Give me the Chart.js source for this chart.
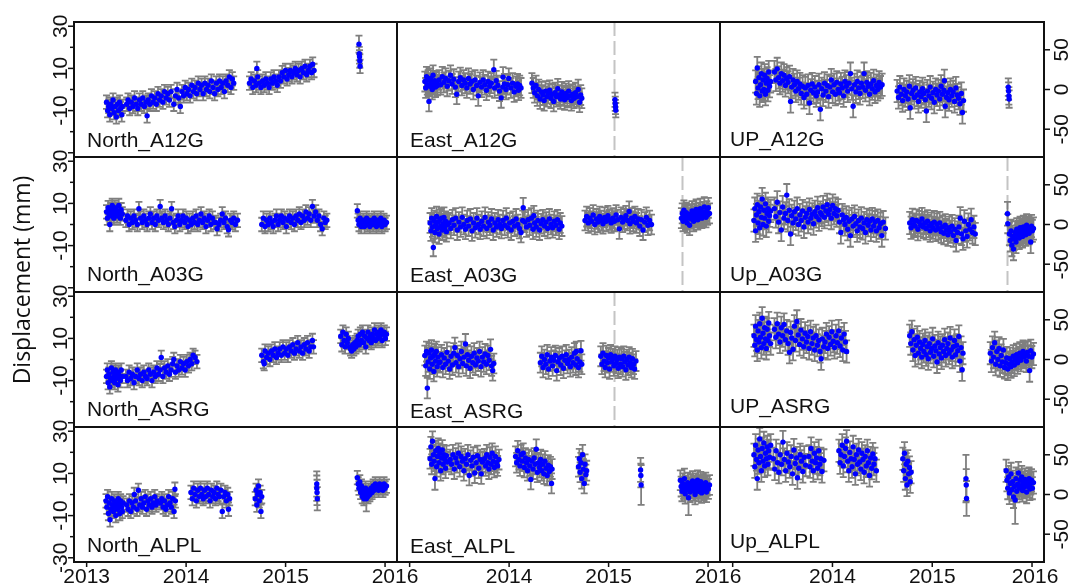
<!DOCTYPE html>
<html><head><meta charset="utf-8">
<script src="https://cdn.jsdelivr.net/npm/chart.js@4.4.1/dist/chart.umd.min.js"></script>
<style>
html,body{margin:0;padding:0;background:#fff;}
#wrap{position:relative;width:1068px;height:585px;overflow:hidden;}
#wrap canvas{position:absolute;left:0;top:0;}
</style>
</head><body><div id="wrap"></div>
<script>
// time values are days since 2013-01-01; optional third value = error (mm)
const yearTicks = [2013, 2014, 2015, 2016];
const northTicks = [30, 20, 10, 0, -10, -20, -30];
const northLabels = [30, 10, -10, -30];
const rightTicks = [50, 0, -50];
const titles = ['North_A12G','East_A12G','UP_A12G','North_A03G','East_A03G','Up_A03G','North_ASRG','East_ASRG','UP_ASRG','North_ALPL','East_ALPL','Up_ALPL'];

const northA12G = [
[73,-6],[77,-10],[81,-8],[85,-12],[89,-7],[93,-9],[97,-5],[101,-11],[105,-8],[109,-13],[113,-7],[117,-10],[121,-6],[125,-9],[129,-12],[131,-8],
[147,-7],[152,-5],[158,-9],[164,-6],[170,-8],[176,-4],[182,-7],[188,-9],[194,-5],[200,-7],[206,-4],[212,-8],[218,-6],[222,-12.5],[226,-5],[232,-7],[238,-3],[244,-6],[250,-4],[256,-7],[262,-2],[268,-5],[274,-3],[280,-6],[286,-1],[292,-4],[298,-2],[304,-5],[310,-1],[320,-7],[326,-3],[332,0],[338,-4],[344,-8],[350,-1],[356,-3],[362,1],[368,-2],[374,0],[380,-3],[386,2],[392,-1],[398,1],[404,-2],[410,3],[416,0],[422,2],[428,-2],[434,3],[440,0],[446,2],[452,-1],[458,4],[464,1],[470,-2],[476,3],[482,0],[488,4],[494,1],[500,3],[506,-1],[512,4],[518,2],[524,6],[530,1],[535,5],[540,3],
[598,3],[604,5],[610,1],[616,4],[622,2],[625,10],[628,6],[634,3],[640,1],[646,4],[652,2],[658,5],[664,3],[670,1],[676,5],[682,3],[688,6],[694,4],[700,2],[706,6],[712,4],[718,8],[724,6],[730,9],[736,5],[742,7],[748,9],[754,6],[760,8],[766,10],[772,7],[778,9],[784,6],[790,10],[796,8],[802,11],[808,7],[814,9],[820,11],[826,8],[830,12],[835,9],
[1000,21.5,4],[1001,17],[1002,15.5],[1003,13.5],[1004,11]
];
const eastA12G = [
[56,10],[59,2],[62,16],[65,6],[68,12],[71,-15],[74,4],[77,14],[80,8],[83,0],[86,18],[89,6],[92,11],[95,3],[98,9],[102,5],
[108,12],[114,6],[120,16],[126,9],[132,14],[138,4],[144,11],[150,18],[156,7],[162,13],[168,3],[173,-6],[180,10],[186,15],[192,5],[198,12],[204,8],[210,2],[216,14],[222,7],[228,10],[234,0],[240,12],[246,5],[252,-8],[258,9],[264,3],[270,12],[276,6],[282,-1],[288,10],[294,4],[300,8],[309,25],[312,2],[318,11],[324,5],[330,-2],[336,-10.5],[342,3],[343,15.6],[348,7],[354,0],[360,6],[364,14],[372,2],[378,8],[384,-3],[390,4],[396,7],[400,-1],[404,5],[409,2],
[449,8],[454,2],[459,-4],[464,5],[469,-8],[474,0],[479,-12],[484,-3],[489,-7],[494,-14],[499,-2],[504,-9],[509,-5],[514,-1],[519,-11],[524,-6],[529,-15],[534,-4],[539,-9],[544,1],[549,-7],[554,-12],[559,-3],[564,-8],[569,-13],[574,-5],[579,-10],[584,-2],[589,-8],[594,-14],[599,-6],[604,-11],[609,-4],[614,-9],[619,0],[624,-16],[628,-7],[632,-11],
[754,-13,9],[755,-18,9],[756,-22,9],[757,-26,9]
];
const upA12G = [
[84,10],[87,-5],[90,27],[93,2],[96,15],[99,-8],[102,6],[105,20],[108,-2],[111,12],[114,0],[117,18],[120,-6],[123,8],[126,14],[129,-1],[132,22],[135,4],[139,10],
[153,22],[158,12],[163,26],[168,15],[173,8],[178,20],[183,11],[188,18],[193,5],[198,14],[203,9],[208,16],[212,-15],[216,3],[221,12],[226,6],[231,-2],[236,10],[241,1],[246,7],[251,-5],[256,4],[261,-10],[266,2],[271,-6],[276,5],[281,-17],[286,-1],[291,7],[296,-4],[301,3],[306,-8],[311,-3],[316,6],[321,-25],[326,1],[331,-7],[336,8],[341,-2],[346,5],[351,-9],[356,3],[361,12],[366,-3],[371,6],[376,-6],[381,9],[386,0],[391,-4],[396,7],[401,2],[406,-8],[411,10],[416,4],[421,-2],[426,8],[431,20],[436,1],[441,-21],[446,6],[451,-3],[456,10],[461,2],[466,-5],[471,8],[476,3],[481,20],[486,-1],[491,9],[496,4],[501,-6],[506,7],[511,1],[516,11],[521,-3],[526,5],[531,0],[536,9],[541,3],[547,6],
[602,-2],[607,-10],[612,3],[617,-6],[622,-14],[627,0],[632,-8],[637,-3],[642,-12],[647,4],[650,-23],[655,-5],[660,-1],[665,-10],[670,2],[675,-7],[680,-15],[685,-3],[690,-9],[695,1],[700,-5],[705,-13],[709,-27],[713,-2],[718,-8],[723,3],[728,-11],[733,-4],[738,-16],[743,0],[748,-7],[753,-2],[758,-12],[763,4],[768,-6],[773,-1],[775,11],[778,-21],[783,-10],[787,-4],[792,-13],[797,0],[802,-8],[807,-3],[812,-15],[817,2],[822,-7],[827,-11],[832,-18],[837,-5],[841,-29],[845,-14],
[1009,3,11],[1010,-2,11],[1011,-8,11],[1012,-12,11]
];
const northA03G = [
[73,6],[76,3],[79,8],[82,5],[85,0],[88,7],[91,4],[94,9],[97,6],[100,3],[103,8],[106,5],[109,7],[112,4],[115,6],[118,9],[121,5],[124,3],[127,7],[131,5],
[144,2],[150,4],[156,0],[162,3],[168,1],[174,4],[180,2],[186,0],[192,7.5],[198,3],[204,1],[210,4],[216,2],[222,0],[228,3],[234,5],[240,1],[246,3],[252,0],[258,4],[264,2],[270,8.5],[276,3],[282,1],[288,4],[294,2],[300,0],[306,3],[312,7.5],[318,1],[324,-1],[330,2],[336,4],[342,0],[348,2],[354,4],[360,1],[366,3],[372,-1],[378,2],[384,0],[390,3],[396,1],[402,4],[408,0],[414,2],[420,5],[426,1],[432,3],[438,-1],[444,2],[450,4],[456,0],[462,3],[468,1],[474,1],[479,-2],[486,0],[492,2],[498,5],[504,1],[510,3],[516,-1],[521,-2.5],[528,2],[534,1],[540,3],[546,0],[554,2],
[643,0],[649,3],[655,-1],[661,2],[667,0],[673,3],[679,1],[685,-1],[691,2],[697,4],[703,0],[709,2],[715,4],[721,1],[727,3],[733,-1],[739,2],[745,4],[751,1],[757,3],[763,0],[769,4],[775,2],[781,5],[787,1],[793,4],[799,2],[805,6],[811,3],[817,5],[823,2],[829,8.5],[835,4],[841,6],[847,2],[853,4],[859,0],[865,-2],[871,3],[876,1],[882,2],
[994,6.5],[997,2],[1000,0],[1004,3],[1008,-1],[1012,1],[1016,2],[1020,-1],[1024,1],[1028,3],[1032,0],[1036,2],[1040,-1],[1044,1],[1048,2],[1052,0],[1056,3],[1060,1],[1064,-1],[1068,2],[1072,0],[1076,1],[1080,3],[1084,-1],[1088,1],[1092,2],[1096,0],[1101,1]
];
const eastA03G = [
[75,2],[78,-8],[81,8],[84,-3],[87,-29,11],[90,5],[93,-10],[96,0],[99,10],[102,-5],[105,3],[108,-12],[111,6],[114,-2],[117,8],[120,-7],[123,1],[126,9],[129,-4],[132,4],[135,-9],[139,0],
[145,2],[151,-5],[157,6],[163,-1],[169,8],[175,-7],[181,3],[187,-3],[193,9],[199,0],[205,-6],[211,5],[217,-2],[223,7],[229,-8],[235,2],[241,-4],[247,8],[253,0],[259,-6],[265,4],[271,-2],[277,9],[283,-5],[289,3],[295,-1],[301,7],[307,-7],[313,2],[319,-3],[325,6],[331,0],[337,-5],[343,5],[349,-1],[355,8],[361,-4],[367,2],[373,-7],[379,4],[385,-2],[391,7],[397,0],[403,-5],[409,-10],[415,5],[417,21],[423,3],[429,-3],[435,6],[441,-1],[447,8],[453,-6],[456,11],[459,2],[465,-3],[471,5],[477,-7],[483,1],[489,6],[495,-2],[501,3],[507,-5],[513,7],[519,0],[525,-4],[531,4],[537,-1],[543,6],[549,-6],[553,2],[559,-2],
[644,5],[650,10],[656,2],[662,8],[668,4],[674,12],[680,0],[686,7],[692,3],[698,10],[704,5],[710,1],[716,9],[722,4],[728,11],[734,6],[740,2],[746,8],[752,4],[758,12],[764,6],[770,-5.5],[776,9],[782,3],[788,7],[794,11],[800,5],[806,16.5],[809,1],[815,8],[821,4],[827,10],[833,2],[839,7],[845,-2],[851,6],[857,-7],[863,3],[869,9],[875,-1],[881,5],[888,0],
[998,8],[1001,14],[1004,4],[1007,18],[1010,10],[1013,6],[1016,15],[1019,2],[1022,12],[1025,8],[1028,-1],[1031,13],[1034,7],[1037,17],[1040,10],[1043,4],[1046,14],[1049,9],[1052,19],[1055,11],[1058,6],[1061,15],[1064,10],[1067,20],[1070,12],[1073,8],[1076,16],[1079,11],[1082,22],[1085,13],[1088,9],[1091,17],[1094,12],[1097,21],[1101,14]
];
const upA03G = [
[78,5],[81,20],[84,-8],[87,12],[90,25],[93,2],[96,16],[99,-4],[102,22],[105,9],[108,32],[111,0],[114,18],[117,8],[120,26],[123,-2],[126,14],[129,20],[132,4],[135,11],[139,17],
[153,20],[158,10],[163,28],[168,3],[173,15],[178,-7],[183,22],[188,8],[193,14],[198,37],[202,5],[207,18],[212,-12],[216,11],[221,2],[226,16],[231,7],[236,20],[241,0],[246,12],[251,5],[256,17],[261,-3],[266,9],[271,14],[276,3],[281,19],[286,8],[291,13],[296,1],[301,16],[306,10],[311,21],[316,6],[321,15],[326,12],[331,22],[336,9],[341,17],[346,25],[351,13],[356,19],[361,8],[366,24],[371,14],[376,20],[381,11],[386,18],[391,3],[396,-10],[401,12],[406,6],[411,0],[416,9],[421,-6],[426,4],[431,-14],[436,7],[441,-2],[446,10],[451,1],[456,-8],[461,5],[466,-3],[471,8],[476,-5],[481,2],[486,-10],[491,6],[496,-1],[501,4],[506,-7],[511,7],[516,-2],[521,3],[526,-8],[531,5],[536,-4],[541,1],[546,-14],[551,3],[559,-5],
[648,2],[653,-4],[658,6],[663,0],[668,-2],[673,5],[678,-6],[683,3],[688,-1],[693,7],[698,-3],[703,2],[708,-5],[713,4],[718,-2],[723,-8],[728,1],[733,-4],[738,3],[743,-7],[748,0],[753,-5],[758,2],[763,-9],[768,-3],[773,-11],[778,-1],[783,-7],[788,-13],[793,-4],[798,-9],[803,-2],[808,-14],[813,-6],[818,-20],[823,-10],[828,-3],[833,8],[838,-12],[843,-18],[848,4],[853,-8],[858,-15],[863,0],[868,-6],[873,6],[878,-10],[883,-3],[888,-12],
[1006,13.5,15],[1007,1,12],[1013,-12],[1016,-20],[1019,-8],[1022,-26],[1025,-15],[1028,-31],[1031,-18],[1034,-10],[1037,-22],[1040,-6],[1043,-14],[1046,-9],[1049,-17],[1052,-4],[1055,-12],[1058,-7],[1061,-15],[1064,-3],[1067,-10],[1070,-5],[1073,-13],[1076,-1],[1079,-9],[1082,-4],[1085,-11],[1088,-6],[1091,-22],[1094,-2],[1097,-8],[1101,-5]
];
const northASRG = [
[73,-8],[76,-5],[79,-11],[82,-7],[85,-13],[88,-9],[91,-4],[94,-10],[97,-6],[100,-8],[103,-11],[106,-5],[109,-9],[112,-7],[115,-12],[118,-6],[121,-8],[124,-10],[127,-5],[131,-8],
[144,-8],[150,-10],[156,-6],[162,-9],[168,-7],[174,-11],[180,-8],[186,-5],[192,-9],[198,-7],[204,-10],[210,-6],[216,-8],[222,-9],[228,-5],[234,-7],[240,-10],[246,-6],[252,-8],[258,-4],[264,-7],[270,-5],[274,1],[280,-8],[286,-4],[292,-6],[298,-3],[304,-7],[310,-5],[316,-2],[320,0],[326,-6],[332,-3],[338,-5],[344,-1],[350,-4],[356,-2],[362,-5],[368,-1],[374,-3],[380,0],[386,-2],[391,2],[398,1],[405,-1],
[643,2],[649,-1],[652,-2],[655,4],[661,1],[667,3],[673,0],[679,4],[685,2],[691,5],[697,1],[703,3],[709,5],[715,2],[721,6],[727,3],[733,5],[739,2],[745,6],[751,4],[757,7],[763,3],[769,5],[775,8],[781,4],[787,6],[793,3],[799,7],[805,5],[811,8],[817,4],[823,6],[829,9],[833,6],
[933,11],[937,7],[941,13],[945,9],[949,6],[953,12],[957,8],[961,10],[965,6],[969,5],[973,4],[977,7],[981,5],[985,8],[989,6],[993,9],[997,11],[1001,7],[1005,12],[1009,9],[1013,13],[1017,8],[1021,11],[1025,6],[1029,10],[1033,13],[1037,9],[1041,11],[1045,8],[1049,12],[1053,10],[1057,14],[1061,9],[1065,12],[1069,10],[1073,13],[1077,11],[1081,14],[1085,9],[1089,12],[1093,13],[1097,10],[1101,12]
];
const eastASRG = [
[56,5],[59,-8],[62,10],[65,-36,13],[68,-3],[71,8],[74,-12],[77,2],[80,12],[83,-6],[86,4],[89,-15],[92,7],[95,-2],[98,10],[101,-9],[104,3],[108,-4],
[112,-3],[117,6],[122,-10],[127,2],[132,-6],[137,9],[142,-2],[147,-12],[152,4],[157,-7],[162,8],[166,15],[170,-4],[175,5],[180,-9],[185,1],[190,10],[195,-5],[200,3],[205,19.6],[208,-8],[212,6],[217,-1],[222,-11],[227,4],[232,-4],[237,8],[242,-7],[247,2],[252,-2],[257,10],[262,-9],[267,3],[272,-3],[277,7],[282,-6],[287,5],[292,-1],[297,12.8],[301,-8],[305,-14],[309,-5],
[480,-4],[485,4],[490,-10],[495,0],[500,-6],[505,6],[510,-12],[515,-2],[520,3],[525,-8],[530,-1],[535,5],[540,-14],[545,-3],[550,2],[555,-7],[560,4],[565,-11],[570,-1],[575,6],[580,-5],[585,0],[590,-9],[595,3],[600,-4],[605,8],[610,-7],[612,10],[615,1],[620,-10],[625,-3],[629,11],[632,-6],
[702,4],[706,-6],[710,8],[714,-2],[718,-10],[722,5],[726,-4],[730,2],[734,-12],[738,6],[742,-3],[746,1],[750,-8],[754,4],[758,-5],[762,0],[766,-11],[770,3],[774,-6],[778,1],[782,-9],[786,4],[790,-3],[794,-13],[798,0],[802,-7],[806,3],[810,-4],[814,-10],[818,1],[822,-6],[826,-12],[831,-2]
];
const upASRG = [
[78,30],[81,18],[84,42],[87,25],[90,12],[93,36],[96,22],[99,45],[102,28],[105,15],[108,52],[111,33],[114,20],[117,40],[120,26],[123,14],[126,38],[129,24],[132,46],[135,30],[139,20],
[153,38],[158,28],[163,45],[168,32],[173,22],[178,40],[183,30],[188,44],[193,25],[198,36],[203,20],[208,9],[212,34],[216,27],[221,13],[226,42],[230,24],[235,48],[240,31],[245,19],[250,37],[255,26],[260,16],[265,33],[270,22],[275,29],[280,14],[285,35],[290,20],[295,27],[300,12],[305,30],[310,18],[315,24],[320,10],[324,1],[328,26],[333,16],[338,22],[343,32],[348,14],[353,28],[358,19],[363,35],[368,23],[373,15],[378,30],[383,21],[388,36],[393,17],[398,27],[403,12],[408,32],[413,22],[417,10],
[648,30],[652,20],[656,35],[660,12],[664,25],[668,5],[672,18],[676,28],[680,8],[684,22],[688,14],[692,3],[696,19],[700,10],[704,24],[708,6],[712,16],[716,1],[720,20],[724,9],[728,14],[732,26],[736,4],[740,17],[744,11],[748,-3],[752,21],[756,7],[760,15],[764,2],[768,18],[772,10],[776,25],[780,5],[784,14],[788,20],[792,8],[796,27],[800,12],[804,3],[808,16],[812,24],[816,6],[820,18],[824,11],[828,29],[832,-2],[836,15],[840,-13],[843,8],
[943,8],[947,-2],[951,15],[955,3],[959,21],[963,-6],[967,10],[971,0],[975,14],[979,-8],[983,5],[987,-3],[991,12],[995,-10],[999,-4],[1003,2],[1007,-12],[1011,-6],[1015,1],[1019,-9],[1023,-3],[1027,4],[1031,-7],[1035,0],[1039,6],[1043,-4],[1047,2],[1051,8],[1055,-1],[1059,5],[1063,10],[1067,3],[1071,7],[1075,-2],[1079,9],[1083,4],[1087,-14],[1091,11],[1095,3],[1101,7]
];
const northALPL = [
[71,-3],[74,-6],[77,-1],[80,-9],[83,-4],[86,-12],[89,-7],[92,-2],[95,-5],[98,-8],[101,-3],[104,-6],[107,-10],[110,-4],[113,-7],[116,-2],[119,-5],[122,-9],[125,-3],[128,-6],[131,-8],[134,-4],
[147,-5],[152,-7],[157,-3],[162,-8],[167,-4],[172,-6],[175,0],[180,-3],[185,-7],[190,2],[195,-5],[200,-2],[205,-6],[210,-4],[215,-1],[220,-7],[225,-3],[230,-5],[235,-2],[240,-6],[245,-4],[250,-1],[255,-5],[259,-3],
[271,-4],[276,-2],[281,-6],[286,-3],[291,-7],[296,-5],[301,-1],[306,-4],[311,-6],[316,-2],[321,-8],[324,2.5],[326,-3],
[383,1],[388,-2],[393,3],[398,0],[403,-3],[408,2],[413,-1],[418,3],[423,0],[428,-2],[433,2],[438,-1],[443,3],[448,0],[453,-3],[458,2],[463,-1],[468,1],[473,-2],[478,3],[483,0],[488,-1],[493,2],[498,-8],[503,-1],[508,1],[513,-3],[518,0],[521,-7],[525,-2],
[619,-2],[622,2],[625,-5],[628,0],[631,4],[634,-3],[637,1],[640,-8],[643,-1],
[845,5,6],[845,3,6],[846,1,6],[847,-2,5.5],
[994,8],[997,5],[1000,3],[1003,6],[1006,1],[1009,4],[1012,-1],[1015,2],[1018,-2],[1021,0],[1024,3],[1027,-2,6],[1030,1],[1033,-1],[1036,2],[1040,0],[1044,3],[1048,1],[1052,4],[1056,2],[1060,5],[1064,3],[1068,4],[1072,2],[1076,5],[1080,3],[1084,4],[1088,2],[1092,5],[1096,3],[1101,4]
];
const eastALPL = [
[75,45],[78,60],[81,38],[84,67],[87,50],[90,42],[93,20,14],[96,55],[99,35],[102,48],[105,58],[108,40],[111,52],[114,30],[117,46],[120,56],[123,38],[126,50],[129,44],[132,33],[135,49],[139,41],
[149,44],[154,38],[159,50],[164,32],[169,46],[174,40],[179,52],[184,35],[189,48],[194,42],[199,30],[204,45],[209,38],[214,50],[219,24],[224,43],[229,36],[234,47],[239,27],[244,40],[249,49],[254,33],[259,44],[263,26],[267,41],
[275,45],[279,36],[283,50],[287,40],[291,32],[295,47],[299,38],[303,52],[307,42],[311,34],[315,48],[319,40],[323,36],[328,44],
[389,48],[393,40],[397,55],[401,44],[405,36],[409,50],[413,42],[417,52],[421,34],[425,46],[429,40],[433,30],[437,44],[441,36],[445,19],[449,42],[453,32],[457,46],[461,38],[465,57],[469,28],[473,40],[477,34],[481,44],[485,30],[489,38],[493,26],[497,42],[501,33],[505,24],[509,37],[513,29],[517,35],[521,14],[523,32],
[620,35],[623,45],[626,28],[629,40],[632,20],[635,50],[638,32],[641,14],[644,38],[647,25],[650,30],
[848,31,15],[849,24,15],[850,12,25],
[994,18],[997,10],[1000,4],[1003,14],[1006,7],[1009,20],[1012,1],[1015,11],[1018,6],[1021,15],[1024,-4,22],[1027,9],[1030,3],[1033,13],[1036,8],[1039,17],[1042,5],[1045,11],[1048,0],[1051,14],[1054,8],[1057,18],[1060,4],[1063,12],[1066,7],[1069,16],[1072,2],[1075,10],[1078,13],[1081,5],[1084,9],[1087,15],[1090,3],[1093,11],[1097,7],[1101,12]
];
const upALPL = [
[78,50],[81,35],[84,62],[87,44],[90,20,14],[93,56],[96,40],[99,70],[102,48],[105,30],[108,58],[111,42],[114,65],[117,36],[120,52],[123,45],[126,60],[129,38],[132,55],[135,47],[139,62],
[149,45],[154,32],[159,55],[164,40],[169,28],[174,50],[179,38],[184,66],[189,44],[194,30],[199,52],[204,41],[209,35],[214,48],[219,26],[224,56],[229,39],[234,46],[237,21],[242,33],[247,50],[252,42],[257,29],[262,47],[267,37],
[279,48],[283,35],[287,58],[291,42],[295,30],[299,52],[303,40],[307,46],[311,33],[315,55],[319,38],[323,45],[327,29],[334,43],
[389,55],[393,40],[397,50],[401,62],[405,36],[409,48],[413,58],[417,67],[421,42],[425,30],[429,53],[433,45],[437,35],[441,60],[445,44],[449,26],[453,50],[457,38],[461,56],[465,41],[469,32],[473,52],[477,44],[481,28],[485,48],[489,36],[493,55],[497,40],[501,24],[505,46],[509,33],[513,51],[517,38],[521,45],[526,30],
[623,45],[626,30],[629,52],[632,20],[635,38],[638,12],[641,42],[644,26],[647,34],[650,16],[653,28],
[854,20,30],[855,12,20],[856,-5,22],
[1001,30],[1004,18],[1007,8],[1010,22],[1013,2],[1016,14],[1019,26],[1022,6],[1025,16],[1028,-3],[1031,10],[1034,-7,30],[1037,20],[1040,4],[1043,13],[1046,27],[1049,8],[1052,18],[1055,11],[1058,22],[1061,5],[1064,15],[1067,9],[1070,19],[1073,12],[1076,3],[1079,16],[1082,10],[1085,20],[1088,7],[1091,14],[1094,18],[1097,8],[1101,15]
];
// dates (days since 2013-01-01) of the vertical dashed event lines
const eventsEastA12G = [751];
const eventsEastA03G = [1000];
const eventsUpA03G = [1005];
const eventsEastASRG = [750];

const panelData = [northA12G, eastA12G, upA12G, northA03G, eastA03G, upA03G, northASRG, eastASRG, upASRG, northALPL, eastALPL, upALPL];
const panelEvents = [[], eventsEastA12G, [], [], eventsEastA03G, eventsUpA03G, [], eventsEastASRG, [], [], [], []];

// ---- layout / style ----
const W = 1068, H = 585;
const COL_L = [74, 397, 720], COL_W = [323, 323, 324];
const ROW_T = [22, 157, 292, 427], ROW_H = 135;
const X_MIN = -46.4, X_MAX = 1139.6;
const TICK_FONT = '21px "Liberation Sans", Arial, sans-serif';
const DEF_ERR = [3.2, 12.5, 14];
const TITLE_DY = [125,125,124, 124,125,124, 124,126,121, 125,126,121];
const yearDay = yr => (yr - 2013) * 365.25;

function rotText(ctx, txt, x, y) {
  ctx.save(); ctx.translate(x, y); ctx.rotate(-Math.PI / 2);
  ctx.textAlign = 'center'; ctx.textBaseline = 'alphabetic';
  ctx.fillText(txt, 0, 0); ctx.restore();
}

function makePlugin(idx) {
  const r = Math.floor(idx / 3), c = idx % 3;
  const pts = panelData[idx];
  const defErr = DEF_ERR[c];
  return {
    id: 'panel' + idx,
    beforeDatasetsDraw(chart) {
      const { ctx, chartArea: a, scales: { x, y } } = chart;
      ctx.save();
      ctx.beginPath(); ctx.rect(a.left, a.top, a.right - a.left, a.bottom - a.top); ctx.clip();
      ctx.strokeStyle = '#c4c4c4'; ctx.lineWidth = 2; ctx.setLineDash([14, 5]);
      panelEvents[idx].forEach(d => {
        const px = Math.round(x.getPixelForValue(d)) + 0.5;
        ctx.beginPath(); ctx.moveTo(px, a.top); ctx.lineTo(px, a.bottom); ctx.stroke();
      });
      ctx.setLineDash([]);
      ctx.strokeStyle = '#7f7f7f'; ctx.lineWidth = 1.8;
      ctx.beginPath();
      pts.forEach(p => {
        const e = p.length > 2 ? p[2] : defErr;
        const px = x.getPixelForValue(p[0]);
        const y1 = y.getPixelForValue(p[1] + e), y2 = y.getPixelForValue(p[1] - e);
        ctx.moveTo(px, y1); ctx.lineTo(px, y2);
        ctx.moveTo(px - 3.5, y1); ctx.lineTo(px + 3.5, y1);
        ctx.moveTo(px - 3.5, y2); ctx.lineTo(px + 3.5, y2);
      });
      ctx.stroke();
      ctx.restore();
    },
    afterDraw(chart) {
      const { ctx, chartArea: a, scales: { x, y } } = chart;
      ctx.save();
      ctx.strokeStyle = '#111'; ctx.lineWidth = 2;
      ctx.strokeRect(a.left, a.top, a.right - a.left, a.bottom - a.top);
      ctx.fillStyle = '#111'; ctx.lineWidth = 1.5;
      ctx.font = TICK_FONT;
      if (c === 0) {
        northTicks.forEach(v => {
          const py = y.getPixelForValue(v);
          const major = northLabels.includes(v);
          ctx.beginPath(); ctx.moveTo(a.left - (major ? 6 : 4), py); ctx.lineTo(a.left, py); ctx.stroke();
          if (major && !(v === -30 && r < 3)) rotText(ctx, String(v), a.left - 7, py);
        });
      }
      if (c === 2) {
        rightTicks.forEach(v => {
          const py = y.getPixelForValue(v);
          ctx.beginPath(); ctx.moveTo(a.right, py); ctx.lineTo(a.right + 6, py); ctx.stroke();
          rotText(ctx, String(v), a.right + 24, py);
        });
      }
      if (r === 3) {
        ctx.textAlign = 'center'; ctx.textBaseline = 'alphabetic';
        yearTicks.forEach(yr => {
          const px = x.getPixelForValue(yearDay(yr));
          ctx.beginPath(); ctx.moveTo(px, a.bottom); ctx.lineTo(px, a.bottom + 5); ctx.stroke();
          if (c > 0 && yr === 2013) return;
          let lx = px;
          if (yr === 2016) lx = c < 2 ? a.right - 2 : px + 3;
          ctx.fillText(String(yr), lx, a.bottom + 21);
        });
      }
      ctx.textAlign = 'left'; ctx.textBaseline = 'alphabetic';
      ctx.font = '21px "Liberation Sans", Arial, sans-serif';
      ctx.fillText(titles[idx], a.left + (c === 2 ? 10 : 13), a.top + TITLE_DY[idx]);
      if (idx === 0) {
        ctx.font = '23px "Open Sans", sans-serif';
        rotText(ctx, 'Displacement (mm)', 30, 280);
      }
      ctx.restore();
    }
  };
}

const wrap = document.getElementById('wrap');
panelData.forEach((pts, idx) => {
  const r = Math.floor(idx / 3), c = idx % 3;
  const cv = document.createElement('canvas');
  cv.width = W; cv.height = H; cv.style.width = W + 'px'; cv.style.height = H + 'px';
  wrap.appendChild(cv);
  const left = COL_L[c], top = ROW_T[r];
  const lim = c === 0 ? 32 : 85;
  new Chart(cv, {
    type: 'scatter',
    data: { datasets: [{
      data: pts.map(p => ({ x: p[0], y: p[1] })),
      pointRadius: 2.7, pointHoverRadius: 2.7,
      pointBackgroundColor: '#0000ff', pointBorderWidth: 0, pointBorderColor: '#0000ff'
    }] },
    options: {
      responsive: false, animation: false, events: [],
      devicePixelRatio: 1,
      layout: { padding: { left: left, top: top, right: W - left - COL_W[c], bottom: H - top - ROW_H } },
      plugins: { legend: { display: false }, tooltip: { enabled: false } },
      scales: {
        x: { type: 'linear', min: X_MIN, max: X_MAX, display: false },
        y: { type: 'linear', min: -lim, max: lim, display: false }
      }
    },
    plugins: [makePlugin(idx)]
  });
});
</script>
</body></html>
